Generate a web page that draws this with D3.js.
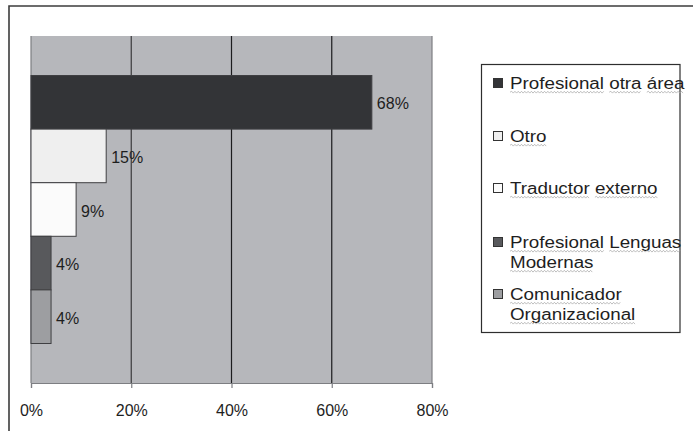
<!DOCTYPE html>
<html>
<head>
<meta charset="utf-8">
<script src="https://cdn.jsdelivr.net/npm/d3@7"></script>
<style>
  html, body { margin: 0; padding: 0; background: #fff; }
  svg { display: block; }
  text { font-family: "Liberation Sans", Arial, sans-serif; fill: #1e1e1e; }
</style>
</head>
<body>
<svg id="chart" width="693" height="431"></svg>
<script>
// Perfil de quien realiza la traducción (porcentaje de respuestas)
const categories = [
  "Profesional otra área",
  "Otro",
  "Traductor externo",
  "Profesional Lenguas Modernas",
  "Comunicador Organizacional"
];
const values = [68, 15, 9, 4, 4];
const legendLines = [
  ["Profesional otra área"],
  ["Otro"],
  ["Traductor externo"],
  ["Profesional Lenguas", "Modernas"],
  ["Comunicador", "Organizacional"]
];
const fills = ["#333437", "#efefef", "#fbfbfb", "#58595c", "#9d9ea1"];
const xTicks = [0, 20, 40, 60, 80];

const svg = d3.select("#chart");

// outer chart frame (only top and left edges fall inside the view)
svg.append("path")
  .attr("d", "M9,440 V6 H700")
  .attr("fill", "none")
  .attr("stroke", "#3c3c3c")
  .attr("stroke-width", 1.6);

const plot = { left: 31, right: 432, top: 36, bottom: 383 };

const x = d3.scaleLinear().domain([0, 80]).range([plot.left, plot.right]);
const y = d3.scaleBand()
  .domain(categories)
  .range([plot.top, plot.bottom])
  .paddingInner(0)
  .paddingOuter(0.737);

// plot background
svg.append("rect")
  .attr("x", plot.left).attr("y", plot.top)
  .attr("width", plot.right - plot.left)
  .attr("height", plot.bottom - plot.top)
  .attr("fill", "#b6b7bb");

// vertical gridlines
svg.append("g")
  .selectAll("line")
  .data(xTicks)
  .join("line")
  .attr("x1", d => x(d)).attr("x2", d => x(d))
  .attr("y1", plot.top).attr("y2", plot.bottom)
  .attr("stroke", d => (d === 0 || d === 80) ? "#7d7e82" : (d === 20 ? "#3a3a3c" : "#1c1c1e"))
  .attr("stroke-width", 1.2);

// bottom axis
const axis = svg.append("g")
  .attr("transform", `translate(0,${plot.bottom})`)
  .call(d3.axisBottom(x)
    .tickValues(xTicks)
    .tickFormat(d => d + "%")
    .tickSize(5)
    .tickPadding(17));
axis.select(".domain").attr("stroke", "#7d7e82").attr("stroke-width", 1.2);
axis.selectAll(".tick line").attr("stroke", "#7d7e82").attr("stroke-width", 1.2);
axis.selectAll(".tick text")
  .attr("font-family", "Liberation Sans, Arial, sans-serif")
  .attr("font-size", 16)
  .attr("fill", "#1e1e1e");

// bars
svg.append("g")
  .selectAll("rect")
  .data(categories)
  .join("rect")
  .attr("x", x(0))
  .attr("y", d => y(d))
  .attr("width", (d, i) => x(values[i]) - x(0))
  .attr("height", y.bandwidth())
  .attr("fill", (d, i) => fills[i])
  .attr("stroke", "#3f3f42")
  .attr("stroke-width", 1);

// value labels
svg.append("g")
  .selectAll("text")
  .data(categories)
  .join("text")
  .attr("x", (d, i) => x(values[i]) + 5)
  .attr("y", d => y(d) + y.bandwidth() / 2 + 7)
  .attr("font-size", 16)
  .text((d, i) => values[i] + "%");

// legend
const legend = svg.append("g");
legend.append("rect")
  .attr("x", 481.5).attr("y", 64.5)
  .attr("width", 198.5).attr("height", 268)
  .attr("fill", "#fff")
  .attr("stroke", "#2e2e2e")
  .attr("stroke-width", 1.2);

const legendBaselines = [89, 142, 194, 248, 300];
const lineGap = 20;
const fontSize = 16;
const spaceW = 0.278 * fontSize;
const stretch = 1.175;

function squiggle(x0, w, yy) {
  let d = `M${x0},${yy}`;
  const step = 1.4;
  let up = true;
  for (let px = x0 + step; px <= x0 + w; px += step) {
    d += ` L${px.toFixed(2)},${(yy + (up ? -0.9 : 0.9)).toFixed(2)}`;
    up = !up;
  }
  return d;
}

categories.forEach((cat, i) => {
  const base = legendBaselines[i];
  legend.append("rect")
    .attr("x", 493.5).attr("y", base - 10.5)
    .attr("width", 9).attr("height", 9)
    .attr("fill", fills[i])
    .attr("stroke", "#333")
    .attr("stroke-width", 1);

  legendLines[i].forEach((line, li) => {
    const g = legend.append("g")
      .attr("transform", `translate(510,${base + li * lineGap}) scale(${stretch},1)`);
    let cx = 0;
    line.split(" ").forEach(word => {
      const t = g.append("text")
        .attr("x", cx).attr("y", 0)
        .attr("font-size", fontSize)
        .text(word);
      const w = t.node().getComputedTextLength();
      g.append("path")
        .attr("d", squiggle(cx, w, 3.2))
        .attr("fill", "none")
        .attr("stroke", "#a9a9a9")
        .attr("stroke-width", 0.7);
      cx += w + spaceW;
    });
  });
});
</script>
</body>
</html>
